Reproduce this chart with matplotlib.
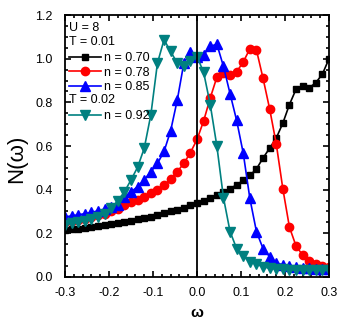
import numpy as np
import matplotlib
matplotlib.use("Agg")
import matplotlib.pyplot as plt
import matplotlib.text as mtext
from matplotlib.ticker import MultipleLocator

plt.rcParams['font.family'] = ['Liberation Sans', 'DejaVu Sans']

# frequency grid (41 points, step 0.015)
omega = np.round(np.arange(41) * 0.015 - 0.3, 3)

# n = 0.70, T = 0.01
n070 = [0.215, 0.218, 0.222, 0.225, 0.229, 0.233, 0.237, 0.242, 0.247, 0.252,
        0.258, 0.264, 0.270, 0.277, 0.284, 0.292, 0.300, 0.309, 0.318, 0.328,
        0.338, 0.350, 0.362, 0.375, 0.390, 0.405, 0.422, 0.442, 0.465, 0.495,
        0.545, 0.590, 0.636, 0.705, 0.790, 0.860, 0.875, 0.867, 0.890, 0.930,
        1.000]
# n = 0.78, T = 0.01
n078 = [0.250, 0.255, 0.260, 0.267, 0.274, 0.282, 0.290, 0.300, 0.310, 0.330,
        0.345, 0.353, 0.368, 0.384, 0.400, 0.420, 0.448, 0.483, 0.520, 0.570,
        0.630, 0.715, 0.820, 0.915, 0.935, 0.925, 0.940, 0.985, 1.045, 1.040,
        0.910, 0.770, 0.610, 0.404, 0.228, 0.142, 0.100, 0.075, 0.060, 0.050,
        0.045]
# n = 0.85, T = 0.01
n085 = [0.275, 0.280, 0.285, 0.290, 0.296, 0.303, 0.311, 0.320, 0.332, 0.368,
        0.390, 0.414, 0.445, 0.483, 0.520, 0.575, 0.670, 0.810, 0.980, 1.030,
        1.010, 1.018, 1.056, 1.067, 0.965, 0.840, 0.717, 0.567, 0.360, 0.208,
        0.130, 0.093, 0.066, 0.055, 0.050, 0.045, 0.043, 0.040, 0.038, 0.037,
        0.035]
# n = 0.92, T = 0.02
n092 = [0.240, 0.245, 0.250, 0.257, 0.265, 0.275, 0.290, 0.315, 0.350, 0.390,
        0.445, 0.503, 0.590, 0.743, 0.980, 1.087, 1.033, 0.980, 0.965, 0.988,
        1.010, 0.937, 0.790, 0.600, 0.364, 0.208, 0.130, 0.096, 0.070, 0.058,
        0.047, 0.040, 0.037, 0.035, 0.033, 0.032, 0.030, 0.030, 0.030, 0.030,
        0.030]

series = [
    (n070, 'black', 's', 5, 'n = 0.70'),
    (n078, 'red', 'o', 6, 'n = 0.78'),
    (n085, 'blue', '^', 6.5, 'n = 0.85'),
    (n092, '#008080', 'v', 6.5, 'n = 0.92'),
]


class TextEntry:
    def __init__(self, text):
        self.text = text


class TextHandler:
    # draws a plain text row in the legend, starting where the handles start
    def legend_artist(self, legend, orig_handle, fontsize, handlebox):
        t = mtext.Text(-handlebox.xdescent,
                       -handlebox.ydescent + handlebox.height / 2,
                       orig_handle.text, fontsize=fontsize,
                       ha='left', va='center')
        handlebox.add_artist(t)
        return t


fig = plt.figure(figsize=(3.46, 3.27), dpi=100)
ax = fig.add_axes([0.188, 0.153, 0.763, 0.801])

lines = []
for vals, col, mk, ms, lab in series:
    l, = ax.plot(omega, vals, color=col, marker=mk, markersize=ms, lw=1.2,
                 label=lab)
    lines.append(l)

ax.axvline(0, color='black', lw=1.3)

ax.set_xlim(-0.3, 0.3)
ax.set_ylim(0, 1.2)
ax.xaxis.set_major_locator(MultipleLocator(0.1))
ax.xaxis.set_minor_locator(MultipleLocator(0.02))
ax.yaxis.set_major_locator(MultipleLocator(0.2))
ax.yaxis.set_minor_locator(MultipleLocator(0.05))
ax.tick_params(which='both', direction='in', top=True, right=True,
               labelsize=9, width=1.2)
ax.tick_params(which='major', length=4)
ax.tick_params(which='minor', length=2.5)
ax.tick_params(axis='x', pad=7)
ax.tick_params(axis='y', pad=9)
ax.set_xticklabels(['%.1f' % v for v in ax.get_xticks()])
ax.set_yticklabels(['%.1f' % v for v in ax.get_yticks()])
for s in ax.spines.values():
    s.set_linewidth(1.3)

ax.set_xlabel('ω', fontsize=11, fontweight='bold')
ax.xaxis.set_label_coords(0.5, -0.11)
ax.set_ylabel('N(ω)', fontsize=16)
ax.yaxis.set_label_coords(-0.145, 0.45)

handles = [TextEntry('U = 8'), TextEntry('T = 0.01'), lines[0], lines[1],
           lines[2], TextEntry('T = 0.02'), lines[3]]
labels = [' ', ' ', 'n = 0.70', 'n = 0.78', 'n = 0.85', ' ', 'n = 0.92']
ax.legend(handles, labels, loc='upper left', bbox_to_anchor=(0.0, 0.985),
          frameon=False, fontsize=9,
          handler_map={TextEntry: TextHandler()}, handlelength=2.5,
          handletextpad=0.3, labelspacing=0.2, borderaxespad=0.1,
          borderpad=0.25)

fig.savefig('out.png', dpi=100)
